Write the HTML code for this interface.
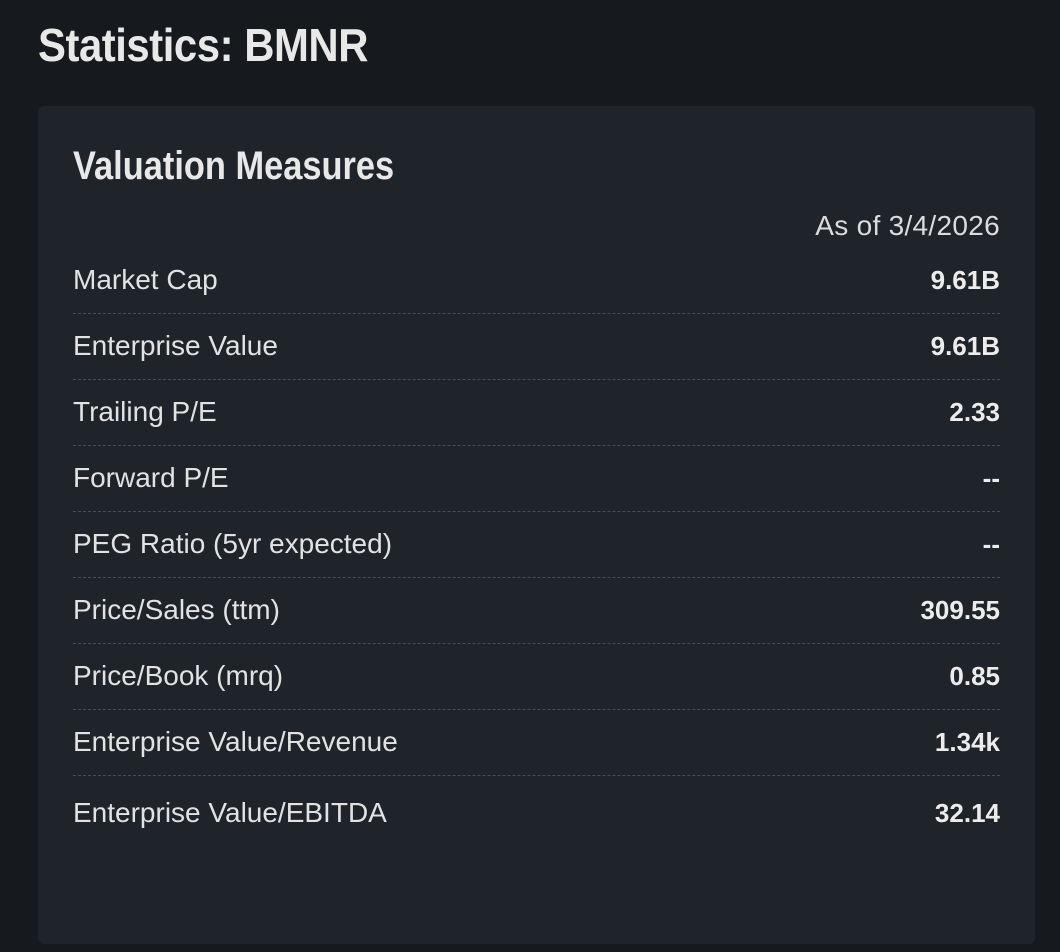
<!DOCTYPE html>
<html><head><meta charset="utf-8"><style>
html,body{margin:0;padding:0;background:#16191e;width:1060px;height:952px;overflow:hidden;font-family:"Liberation Sans",sans-serif;color:#e6e6e6}
.t{position:absolute;left:38px;top:18px;font-weight:bold;font-size:46px;color:#e8e8e8;transform:scaleX(0.91);transform-origin:0 0;white-space:nowrap;letter-spacing:-0.5px}
.card{position:absolute;left:38px;top:106px;width:997px;height:838px;background:#1f232a;border-radius:6px}
.h{position:absolute;left:35px;top:38px;font-weight:bold;font-size:40px;color:#e8e8e8;transform:scaleX(0.86);transform-origin:0 0;white-space:nowrap}
.asof{position:absolute;right:35px;top:104px;font-size:28px;color:#dcdcdc;letter-spacing:0.3px}
.row{position:absolute;left:35px;width:927px;height:52px;border-bottom:1px dashed #474c55;box-sizing:border-box}
.row.last{border-bottom:none}
.l{position:absolute;left:0;top:0;font-size:28px;line-height:36px;color:#e2e2e2}
.v{position:absolute;right:0;top:0;font-size:26px;line-height:36px;font-weight:bold;color:#ececec}
</style></head><body>
<div class="t">Statistics: BMNR</div>
<div class="card">
<div class="h">Valuation Measures</div>
<div class="asof">As of 3/4/2026</div>
<div id="rows"></div>
</div>
<script>
const labels=["Market Cap","Enterprise Value","Trailing P/E","Forward P/E","PEG Ratio (5yr expected)","Price/Sales (ttm)","Price/Book (mrq)","Enterprise Value/Revenue","Enterprise Value/EBITDA"];
const values=["9.61B","9.61B","2.33","--","--","309.55","0.85","1.34k","32.14"];
const c=document.getElementById('rows');
labels.forEach((lab,i)=>{
 const r=document.createElement('div');
 r.className='row'+(i===labels.length-1?' last':'');
 r.style.top=(156+i*66+(i===labels.length-1?5:0))+'px';
 
 
 const a=document.createElement('div');a.className='l';a.textContent=lab;
 
 
 const b=document.createElement('div');b.className='v';b.textContent=values[i];
 
 
 r.appendChild(a);r.appendChild(b);c.appendChild(r);
});
</script>
</body></html>
